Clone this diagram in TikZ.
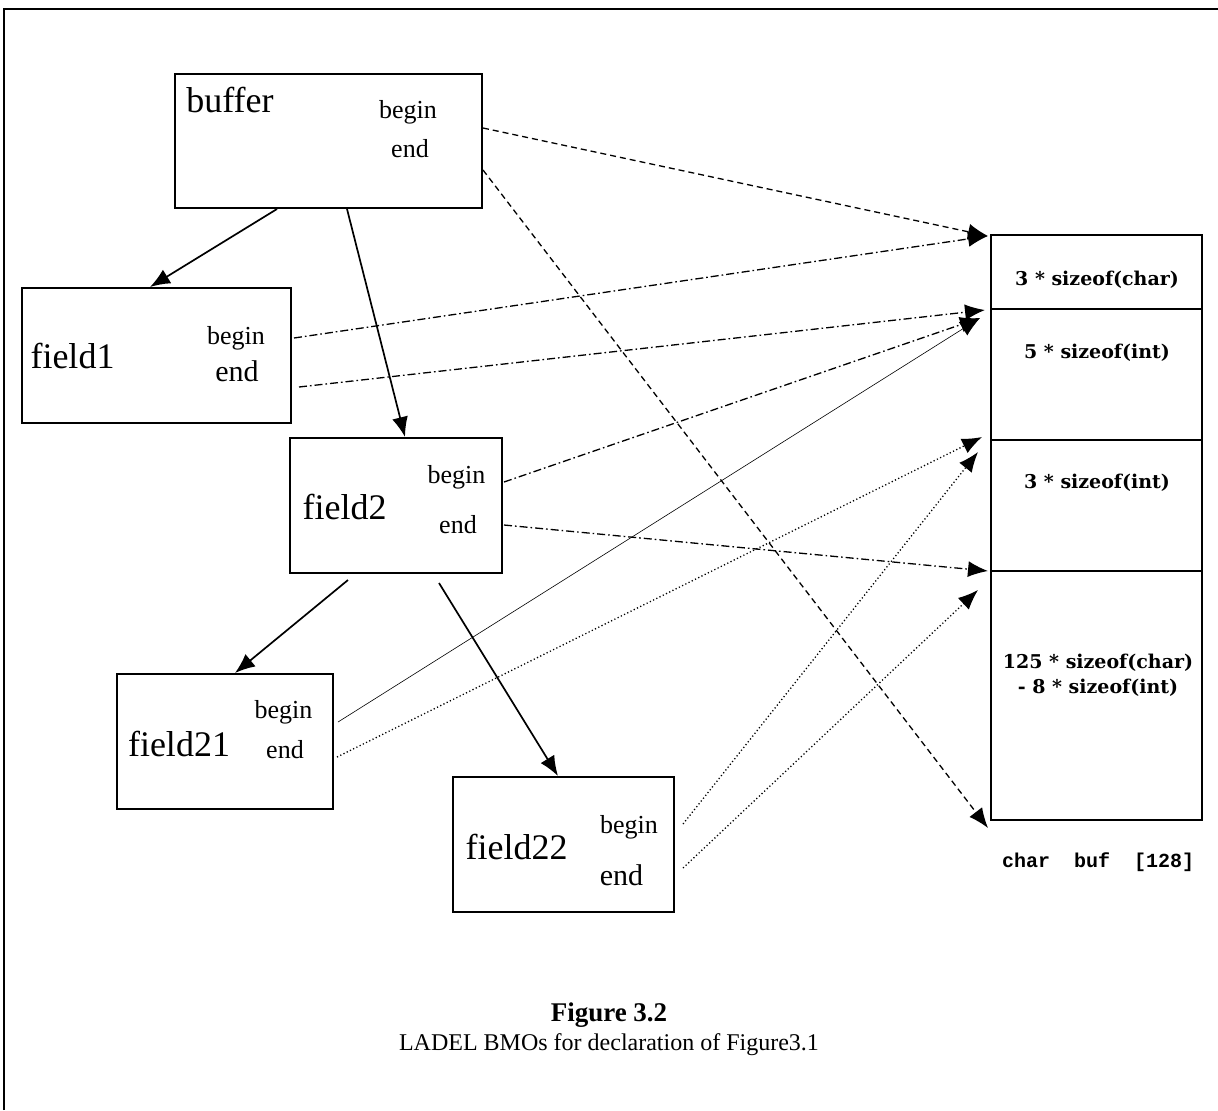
\documentclass[tikz,border=0pt]{standalone}
\usepackage{fontspec}
\setmainfont{Liberation Serif}
\newfontfamily\memfont{DejaVu Serif}
\newfontfamily\codefont{Liberation Mono}
\usetikzlibrary{arrows.meta}

\begin{document}
\begin{tikzpicture}[x=0.5pt, y=-0.5pt,
  bmo/.style={draw, line width=1pt, inner sep=0pt, minimum height=67.5pt},
  slot/.style={draw, line width=1pt, inner sep=0pt, minimum width=105.5pt},
  bmoname/.style={font=\fontsize{18}{20}\selectfont, inner sep=0pt},
  ptr/.style={font=\fontsize{13}{15}\selectfont, inner sep=0pt},
  bigptr/.style={font=\fontsize{15}{17}\selectfont, inner sep=0pt},
  sizetext/.style={font=\memfont\bfseries\fontsize{9.5}{12.5}\selectfont, align=center, inner sep=0pt},
  treearrow/.style={line width=0.85pt, -{Latex[length=10pt,width=8pt]}},
  link/.style={line width=0.65pt, -{Latex[length=10pt,width=8pt]}},
  dashlink/.style={link, dash pattern=on 3pt off 2pt},
  dotdashlink/.style={link, dash pattern=on 4pt off 1.5pt on 0.8pt off 1.5pt},
  dotlink/.style={link, dash pattern=on 0.6pt off 1.2pt},
  thinlink/.style={-{Latex[length=10pt,width=8pt]}, line width=0.3pt}
]
\useasboundingbox (0,0) rectangle (1218,1110);

% frame
\draw[line width=0.9pt] (4,1110) -- (4,9) -- (1218,9);

% BMO boxes
\node[bmo, minimum width=153.5pt, minimum height=67pt] (buffer) at (328.5,141) {};
\node[bmo, minimum width=134.5pt] (field1) at (156.5,355.5) {};
\node[bmo, minimum width=106pt] (field2) at (396,505.5) {};
\node[bmo, minimum width=108pt] (field21) at (225,741.5) {};
\node[bmo, minimum width=110.5pt] (field22) at (563.5,844.5) {};

% names and pointers
\node[bmoname] (bufname) at (230,100) {buffer};
\node[ptr] (bufbegin) at (408,112) {begin};
\node[ptr] (bufend) at (410,149) {end};
\node[bmoname] (f1name) at (72.5,356) {field1};
\node[ptr] (f1begin) at (236,338) {begin};
\node[bigptr] (f1end) at (237,371) {end};
\node[bmoname] (f2name) at (344.5,507) {field2};
\node[ptr] (f2begin) at (456.5,477) {begin};
\node[ptr] (f2end) at (458,525) {end};
\node[bmoname] (f21name) at (179,744) {field21};
\node[ptr] (f21begin) at (283.5,712) {begin};
\node[ptr] (f21end) at (285,750) {end};
\node[bmoname] (f22name) at (516.5,847) {field22};
\node[ptr] (f22begin) at (629,827) {begin};
\node[bigptr] (f22end) at (621.5,875) {end};

% char buf [128]
\node[slot, minimum height=37pt] (slot1) at (1096.5,272) {};
\node[slot, minimum height=65.5pt] (slot2) at (1096.5,374.5) {};
\node[slot, minimum height=65.5pt] (slot3) at (1096.5,505.5) {};
\node[slot, minimum height=124.5pt] (slot4) at (1096.5,695.5) {};
\node[sizetext] (s1) at (1097,280) {3 * sizeof(char)};
\node[sizetext] (s2) at (1097,353) {5 * sizeof(int)};
\node[sizetext] (s3) at (1097,483) {3 * sizeof(int)};
\node[sizetext] (s4) at (1098,675) {125 * sizeof(char)\\ - 8 * sizeof(int)};
\node[font=\codefont\bfseries\fontsize{10}{12}\selectfont, inner sep=0pt] (bufdecl) at (1098,862) {char~~buf~~[128]};

% tree edges
\coordinate (b1) at (277,209);
\coordinate (b2) at (347,209);
\coordinate (c1) at (348,580);
\coordinate (c2) at (439,583);
\coordinate (t1) at (150,287);
\coordinate (t2) at (405,437);
\coordinate (t21) at (235,673);
\coordinate (t22) at (558,776);
\draw[treearrow] (b1) -- (t1);
\draw[treearrow] (b2) -- (t2);
\draw[treearrow] (c1) -- (t21);
\draw[treearrow] (c2) -- (t22);

% begin/end pointers
\coordinate (bb) at (483,128);
\coordinate (be) at (483,170);
\coordinate (f1b) at (294,338);
\coordinate (f1e) at (299,387);
\coordinate (f2b) at (504,482);
\coordinate (f2e) at (504,525);
\coordinate (f21b) at (338,722);
\coordinate (f21e) at (337,757);
\coordinate (f22b) at (683,824);
\coordinate (f22e) at (683,868);
\coordinate (m0) at (988,236);
\coordinate (m1a) at (985,310);
\coordinate (m1b) at (980,318);
\coordinate (m2a) at (982,437);
\coordinate (m2b) at (978,452);
\coordinate (m3a) at (988,571);
\coordinate (m3b) at (978,590);
\coordinate (m4) at (988,828);
\draw[dashlink] (bb) -- (m0);
\draw[dashlink] (be) -- (m4);
\draw[dotdashlink] (f1b) -- (m0);
\draw[dotdashlink] (f1e) -- (m1a);
\draw[dotdashlink] (f2b) -- (m1b);
\draw[dotdashlink] (f2e) -- (m3a);
\draw[thinlink] (f21b) -- (m1b);
\draw[dotlink] (f21e) -- (m2a);
\draw[dotlink] (f22b) -- (m2b);
\draw[dotlink] (f22e) -- (m3b);

% caption
\node[font=\bfseries\fontsize{13.5}{15}\selectfont] (capnum) at (609,1015) {Figure 3.2};
\node[font=\fontsize{12}{14}\selectfont] (captext) at (609,1045) {LADEL BMOs for declaration of Figure3.1};

\end{tikzpicture}
\end{document}
